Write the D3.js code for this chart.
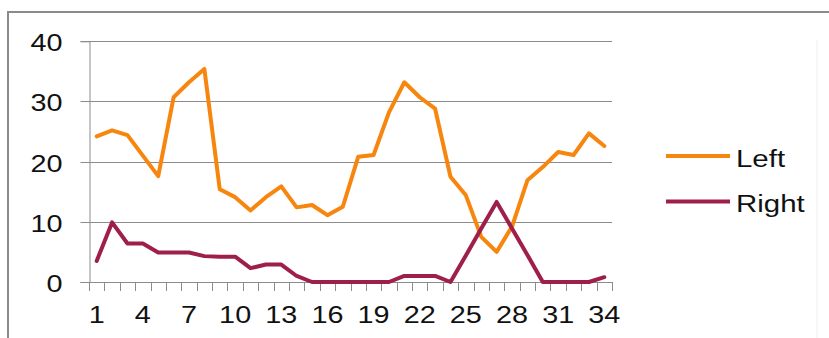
<!DOCTYPE html>
<html>
<head>
<meta charset="utf-8">
<script src="https://cdn.jsdelivr.net/npm/d3@7"></script>
<style>
  html, body { margin: 0; padding: 0; background: #ffffff; }
  svg { display: block; }
</style>
</head>
<body>
<svg id="chart" width="829" height="338"></svg>
<script>
// ---- data ----
const categories = d3.range(1, 35);
const leftValues = [24.2, 25.2, 24.4, 21.0, 17.6, 30.7, 33.2, 35.4, 15.4, 14.1,
                    11.9, 14.1, 15.9, 12.4, 12.8, 11.1, 12.5, 20.8, 21.1, 28.2,
                    33.2, 30.7, 28.8, 17.5, 14.4, 7.5, 5.0, 9.2, 16.9, 19.1,
                    21.6, 21.1, 24.7, 22.6];
const rightValues = [3.5, 9.9, 6.4, 6.4, 4.9, 4.9, 4.9, 4.3, 4.2, 4.2,
                     2.3, 2.9, 2.9, 1.0, 0, 0, 0, 0, 0, 0,
                     1.0, 1.0, 1.0, 0, 4.4, 8.9, 13.3, 8.9, 4.5, 0,
                     0, 0, 0, 0.8];
const seriesNames = ["Left", "Right"];
const yTicks = [0, 10, 20, 30, 40];
const xTickLabels = [1, 4, 7, 10, 13, 16, 19, 22, 25, 28, 31, 34];

// ---- styles ----
const colors = ["#F7860E", "#9E1F4B"];
const FONT = "'Liberation Sans', Arial, sans-serif";
const AX_SCALE = 1.2, LEG_SCALE = 1.28;

const svg = d3.select("#chart");

// outer frame
svg.append("rect").attr("x", 8).attr("y", 12).attr("width", 860).attr("height", 360)
  .attr("fill", "#ffffff").attr("stroke", "#8a8a8a").attr("stroke-width", 2);
svg.append("line").attr("x1", 817).attr("x2", 817).attr("y1", 40).attr("y2", 338)
  .attr("stroke", "#efefef").attr("stroke-width", 1);

const plot = { left: 89, right: 612, top: 41.3, bottom: 282 };

const x = d3.scaleBand().domain(categories).range([plot.left, plot.right]).padding(0);
const y = d3.scaleLinear().domain([0, 40]).range([plot.bottom, plot.top]);
const xc = d => x(d) + x.bandwidth() / 2;

// gridlines
svg.append("g").selectAll("line").data(yTicks.filter(t => t > 0)).join("line")
  .attr("x1", plot.left).attr("x2", plot.right)
  .attr("y1", d => Math.round(y(d)) + 0.5).attr("y2", d => Math.round(y(d)) + 0.5)
  .attr("stroke", "#8c8c8c").attr("stroke-width", 1);

// y axis
const yAxis = svg.append("g").attr("transform", `translate(${plot.left + 0.5},0)`)
  .call(d3.axisLeft(y).tickValues(yTicks).tickSize(9).tickPadding(0));
yAxis.select(".domain").attr("stroke", "#8c8c8c");
yAxis.selectAll(".tick line").attr("stroke", "#8c8c8c");
yAxis.selectAll(".tick").attr("transform", d => `translate(0,${Math.round(y(d)) + 0.5})`);
yAxis.selectAll("text")
  .attr("x", -27 / AX_SCALE).attr("dy", "0.41em")
  .attr("transform", `scale(${AX_SCALE},1)`)
  .attr("font-family", FONT).attr("font-size", 24).attr("fill", "#111");

// x axis: line + boundary ticks
const xAxisG = svg.append("g");
xAxisG.append("line").attr("x1", plot.left).attr("x2", plot.right)
  .attr("y1", Math.round(y(0)) + 0.5).attr("y2", Math.round(y(0)) + 0.5)
  .attr("stroke", "#8c8c8c");
const boundaries = categories.map(c => x(c)).concat([x(categories[categories.length - 1]) + x.bandwidth()]);
xAxisG.selectAll("line.tk").data(boundaries).join("line").attr("class", "tk")
  .attr("x1", d => Math.round(d) + 0.5).attr("x2", d => Math.round(d) + 0.5)
  .attr("y1", Math.round(y(0))).attr("y2", Math.round(y(0)) + 9)
  .attr("stroke", "#8c8c8c");
xAxisG.selectAll("text").data(xTickLabels).join("text")
  .attr("transform", d => `translate(${xc(d)},323) scale(${AX_SCALE},1)`)
  .attr("text-anchor", "middle")
  .attr("font-family", FONT).attr("font-size", 24).attr("fill", "#111")
  .text(d => d);

// lines
const line = d3.line().x((d, i) => xc(categories[i])).y(d => y(d)).curve(d3.curveLinear);
[leftValues, rightValues].forEach((vals, k) => {
  svg.append("path").datum(vals).attr("d", line)
    .attr("fill", "none").attr("stroke", colors[k]).attr("stroke-width", 4)
    .attr("stroke-linejoin", "round").attr("stroke-linecap", "round");
});

// legend
const legendY = [156, 201.5];
const leg = svg.append("g");
seriesNames.forEach((name, k) => {
  leg.append("line").attr("x1", 666).attr("x2", 730)
    .attr("y1", legendY[k]).attr("y2", legendY[k])
    .attr("stroke", colors[k]).attr("stroke-width", 4);
  leg.append("text")
    .attr("transform", `translate(736,${legendY[k] + 10.5}) scale(${LEG_SCALE},1)`)
    .attr("font-family", FONT).attr("font-size", 23).attr("fill", "#111")
    .text(name);
});
</script>
</body>
</html>
